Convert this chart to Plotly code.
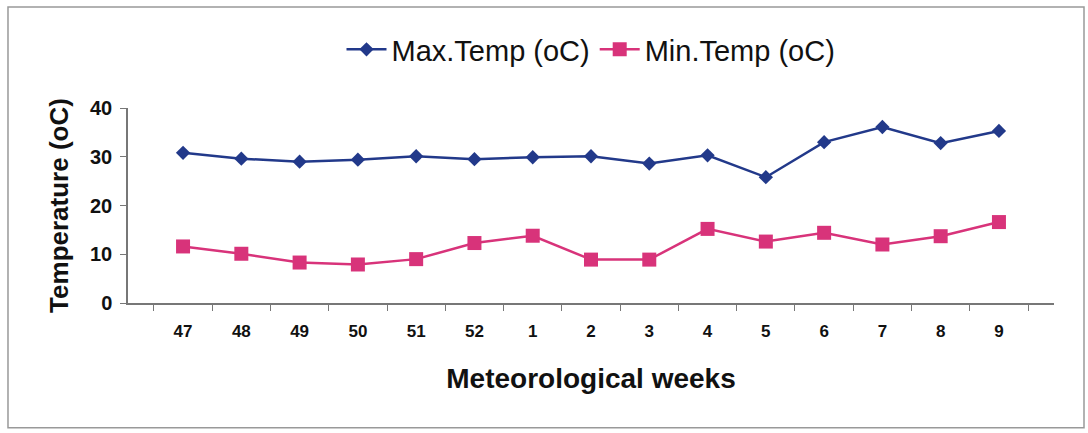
import plotly.graph_objects as go

# Meteorological weeks (47-52 of one year, 1-9 of the next)
weeks = ["47", "48", "49", "50", "51", "52", "1", "2", "3", "4", "5", "6", "7", "8", "9"]

# Weekly temperatures (°C)
max_temp = [30.8, 29.6, 29.0, 29.4, 30.1, 29.5, 29.9, 30.1, 28.6, 30.3, 25.8, 33.0, 36.1, 32.8, 35.3]
min_temp = [11.6, 10.1, 8.3, 7.9, 9.0, 12.3, 13.8, 8.9, 8.9, 15.2, 12.6, 14.4, 12.0, 13.7, 16.6]

y_ticks = [0, 10, 20, 30, 40]

BLUE = "#22398a"
PINK = "#d8337a"
FONT = "Liberation Sans, Arial, sans-serif"

fig = go.Figure()
fig.add_trace(go.Scatter(
    x=weeks, y=max_temp, name="Max.Temp (oC)", mode="lines+markers",
    line=dict(color=BLUE, width=2.5),
    marker=dict(symbol="diamond", size=11, color=BLUE),
))
fig.add_trace(go.Scatter(
    x=weeks, y=min_temp, name="Min.Temp (oC)", mode="lines+markers",
    line=dict(color=PINK, width=2.5),
    marker=dict(symbol="square", size=14, color=PINK),
))

fig.update_layout(
    width=1088, height=433,
    margin=dict(l=128, r=34, t=108, b=130),
    paper_bgcolor="white", plot_bgcolor="white",
    font=dict(family=FONT, color="#111"),
    showlegend=True,
    legend=dict(
        orientation="h", x=0.5, xanchor="center", y=1.30, yanchor="middle",
        font=dict(size=29, color="#111"), itemwidth=40,
        bgcolor="rgba(0,0,0,0)",
    ),
    xaxis=dict(
        type="category", tickson="boundaries", ticks="outside", ticklen=6,
        tickcolor="#777", showline=True, linecolor="#777", linewidth=1.5,
        showgrid=False, zeroline=False, ticklabelstandoff=12,
        tickfont=dict(size=17, family=FONT, color="#111", weight="bold"),
        title=dict(text="<b>Meteorological weeks</b>", font=dict(size=28), standoff=28),
    ),
    yaxis=dict(
        range=[0, 40], tickvals=y_ticks, ticks="outside", ticklen=6,
        tickcolor="#777", showline=True, linecolor="#777", linewidth=1.5,
        showgrid=False, zeroline=False, ticklabelstandoff=4,
        tickfont=dict(size=20, family=FONT, color="#111", weight="bold"),
        title=dict(text="<b>Temperature (oC)</b>", font=dict(size=26), standoff=14),
    ),
    shapes=[dict(
        type="rect", xref="paper", yref="paper",
        x0=-0.1296, x1=1.0324, y0=-0.64, y1=1.518,
        line=dict(color="#999", width=1.5), fillcolor="rgba(0,0,0,0)",
    )],
)

fig.write_html("out.html")
